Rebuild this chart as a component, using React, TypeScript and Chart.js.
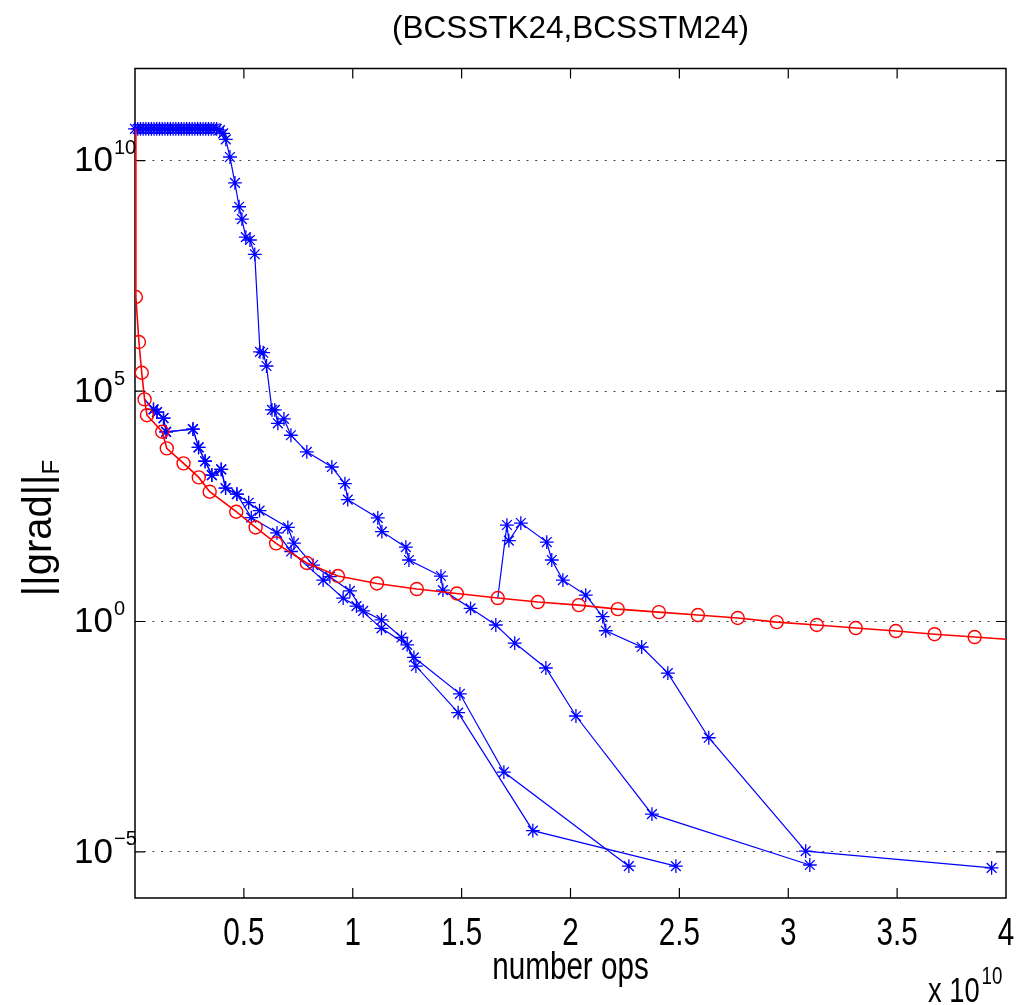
import React, { useEffect, useRef } from 'react';
import { Chart, registerables } from 'chart.js';

Chart.register(...registerables);

const SANS = '"Liberation Sans", Arial, Helvetica, sans-serif';

// ---- texts ----
const chartTitle = '(BCSSTK24,BCSSTM24)';
const xAxisLabel = 'number ops';
const yAxisLabelMain = '||grad||';
const yAxisLabelSub = 'F';
const xMultiplierBase = 'x 10';
const xMultiplierExp = '10';

// ---- ticks ----
const xTickValues = [0, 0.5, 1, 1.5, 2, 2.5, 3, 3.5, 4];
const xTickLabels = ['', '0.5', '1', '1.5', '2', '2.5', '3', '3.5', '4'];
const yTickExponents = [-5, 0, 5, 10];

// ---- data (x in units of 1e10 ops) ----
const redX = [0, 0.004, 0.018, 0.031, 0.044, 0.055, 0.125, 0.146, 0.223, 0.293, 0.343, 0.465, 0.554, 0.648, 0.789, 0.932, 1.111, 1.294, 1.478, 1.666, 1.85, 2.038, 2.217, 2.406, 2.585, 2.768, 2.947, 3.131, 3.31, 3.494, 3.672, 3.856, 4.035];
const redY = [4.9e10, 1.1e7, 1.16e6, 2.5e5, 6.6e4, 3.0e4, 1.31e4, 5.7e3, 2.7e3, 1.34e3, 655, 241, 110, 49.7, 18.6, 9.7, 6.7, 5.06, 4.05, 3.23, 2.64, 2.27, 1.86, 1.6, 1.38, 1.19, 0.97, 0.84, 0.72, 0.62, 0.53, 0.46, 0.4];

const upperX = [0, 0.0125, 0.025, 0.0375, 0.05, 0.0625, 0.075, 0.0875, 0.1, 0.1125, 0.125, 0.1375, 0.15, 0.1625, 0.175, 0.1875, 0.2, 0.2125, 0.225, 0.2375, 0.25, 0.2625, 0.275, 0.2875, 0.3, 0.3125, 0.325, 0.3375, 0.35, 0.3625, 0.375, 0.39, 0.405, 0.417, 0.436, 0.459, 0.478, 0.491, 0.509, 0.528, 0.55, 0.574, 0.589, 0.604, 0.629, 0.642, 0.656, 0.684, 0.716, 0.789, 0.904, 0.964, 0.977, 1.115, 1.134, 1.244, 1.258, 1.405, 1.414, 1.541, 1.657, 1.744, 1.887, 2.025, 2.374, 3.099];
const upperY = [4.9e10, 4.9e10, 4.9e10, 4.9e10, 4.9e10, 4.9e10, 4.9e10, 4.9e10, 4.9e10, 4.9e10, 4.9e10, 4.9e10, 4.9e10, 4.9e10, 4.9e10, 4.9e10, 4.9e10, 4.9e10, 4.9e10, 4.9e10, 4.9e10, 4.9e10, 4.9e10, 4.9e10, 4.9e10, 4.9e10, 4.9e10, 4.9e10, 4.9e10, 4.9e10, 4.9e10, 4.6e10, 3.9e10, 2.9e10, 1.2e10, 3.3e9, 1.0e9, 5.4e8, 2.2e8, 1.9e8, 9.3e7, 7.1e5, 6.8e5, 3.5e5, 3.9e4, 3.9e4, 2.0e4, 2.5e4, 1.1e4, 4.8e3, 2.25e3, 980, 440, 177, 89, 41, 21.6, 9.7, 4.8, 1.93, 0.84, 0.34, 0.098, 8.9e-3, 6.6e-5, 5.2e-6];

const spikeX = [1.666, 1.708, 1.717, 1.772, 1.891, 1.914, 1.965, 2.07, 2.148, 2.162, 2.327, 2.447, 2.635, 3.08, 3.934];
const spikeY = [3.23, 124, 56.8, 137, 53, 21.6, 7.9, 3.75, 1.27, 0.63, 0.28, 0.076, 3.0e-3, 1.04e-5, 4.5e-6];

const lowerAX = [0.044, 0.085, 0.101, 0.131, 0.143, 0.266, 0.292, 0.322, 0.353, 0.396, 0.416, 0.468, 0.522, 0.572, 0.702, 0.73, 0.818, 0.895, 0.987, 1.048, 1.132, 1.224, 1.281, 1.492, 1.694, 2.268];
const lowerAY = [6.6e4, 4.0e4, 3.5e4, 2.6e4, 1.3e4, 1.5e4, 6.0e3, 3.0e3, 1.5e3, 2.0e3, 780, 580, 378, 254, 110, 50, 16.8, 9.4, 4.6, 1.7, 1.08, 0.45, 0.167, 0.027, 5.4e-4, 4.9e-6];

const lowerBX = [0.044, 0.085, 0.101, 0.131, 0.143, 0.266, 0.292, 0.322, 0.353, 0.396, 0.416, 0.468, 0.534, 0.652, 0.717, 0.864, 0.956, 1.017, 1.132, 1.25, 1.29, 1.484, 1.827, 2.484];
const lowerBY = [6.6e4, 4.0e4, 3.5e4, 2.6e4, 1.3e4, 1.5e4, 6.0e3, 3.0e3, 1.5e3, 2.0e3, 780, 580, 179, 84, 33, 7.9, 3.2, 2.16, 0.71, 0.31, 0.108, 0.0105, 2.9e-5, 4.9e-6];

const toPoints = (xs: number[], ys: number[]) => xs.map((x, i) => ({ x, y: ys[i] }));

const BLUE = '#0000ff';
const RED = '#ff0000';
const X_TEXT_SQUEEZE = 0.78;

function drawSqueezed(ctx: CanvasRenderingContext2D, text: string, x: number, y: number, size: number, align: CanvasTextAlign, baseline: CanvasTextBaseline) {
  ctx.save();
  ctx.translate(x, y);
  ctx.scale(X_TEXT_SQUEEZE, 1);
  ctx.font = `${size}px ${SANS}`;
  ctx.textAlign = align;
  ctx.textBaseline = baseline;
  ctx.fillText(text, 0, 0);
  ctx.restore();
}

const matlabAxesPlugin = {
  id: 'matlabAxes',
  beforeDatasetsDraw(chart: any) {
    const { ctx, chartArea, scales } = chart;
    const { left, right, top, bottom } = chartArea;
    ctx.save();
    ctx.strokeStyle = '#000';
    ctx.lineWidth = 1.5;
    ctx.strokeRect(left, top, right - left, bottom - top);
    ctx.lineWidth = 1.2;
    const tl = 10;
    scales.x.ticks.forEach((t: any) => {
      const px = scales.x.getPixelForValue(t.value);
      if (px <= left + 1 || px >= right - 1) return;
      ctx.beginPath();
      ctx.moveTo(px, bottom);
      ctx.lineTo(px, bottom - tl);
      ctx.moveTo(px, top);
      ctx.lineTo(px, top + tl);
      ctx.stroke();
    });
    scales.y.ticks.forEach((t: any) => {
      const py = scales.y.getPixelForValue(t.value);
      ctx.beginPath();
      ctx.moveTo(left, py);
      ctx.lineTo(left + tl, py);
      ctx.moveTo(right, py);
      ctx.lineTo(right - tl, py);
      ctx.stroke();
    });
    ctx.restore();
  },
  afterDraw(chart: any) {
    const { ctx, chartArea, scales } = chart;
    const { bottom, left, right } = chartArea;
    ctx.save();
    ctx.fillStyle = '#000';
    // y tick labels: base 10 + exponent
    yTickExponents.forEach((e) => {
      const py = scales.y.getPixelForValue(Math.pow(10, e));
      ctx.font = `35px ${SANS}`;
      ctx.textAlign = 'right';
      ctx.textBaseline = 'middle';
      ctx.fillText('10', 113, py + 1);
      ctx.font = `20px ${SANS}`;
      ctx.textAlign = 'left';
      const expText = e < 0 ? '\u2212' + String(-e) : String(e);
      ctx.fillText(expText, 114, py - 12);
    });
    // x tick labels
    xTickValues.forEach((v, i) => {
      const px = scales.x.getPixelForValue(v);
      drawSqueezed(ctx, xTickLabels[i], px, bottom + 37, 38, 'center', 'middle');
    });
    // x axis label
    drawSqueezed(ctx, xAxisLabel, (left + right) / 2, bottom + 71, 38, 'center', 'middle');
    // x multiplier
    ctx.font = `35px ${SANS}`;
    const wBase = ctx.measureText(xMultiplierBase).width * X_TEXT_SQUEEZE;
    const bx = 928;
    drawSqueezed(ctx, xMultiplierBase, bx, 1002, 35, 'left', 'alphabetic');
    drawSqueezed(ctx, xMultiplierExp, bx + wBase + 2, 984, 24, 'left', 'alphabetic');
    // y axis label with subscript
    ctx.save();
    ctx.translate(51, 528);
    ctx.rotate(-Math.PI / 2);
    ctx.font = `40px ${SANS}`;
    const wMain = ctx.measureText(yAxisLabelMain).width;
    ctx.font = `24px ${SANS}`;
    const wSub = ctx.measureText(yAxisLabelSub).width;
    const total = wMain + wSub;
    ctx.textAlign = 'left';
    ctx.textBaseline = 'alphabetic';
    ctx.font = `40px ${SANS}`;
    ctx.fillText(yAxisLabelMain, -total / 2, 0);
    ctx.font = `24px ${SANS}`;
    ctx.fillText(yAxisLabelSub, -total / 2 + wMain, 8);
    ctx.restore();
    ctx.restore();
  },
};

export default function App() {
  const canvasRef = useRef<HTMLCanvasElement | null>(null);

  useEffect(() => {
    document.body.style.margin = '0';
    const canvas = canvasRef.current;
    if (!canvas) return;
    const STAR = 6.9;
    const starRadius = (c: any) => (c.dataIndex === 0 ? 0 : STAR);
    const blueBase = {
      borderColor: BLUE,
      backgroundColor: BLUE,
      borderWidth: 1.2,
      pointStyle: 'star',
      pointBorderColor: BLUE,
      pointBorderWidth: 1.3,
      pointRadius: STAR,
      pointHoverRadius: STAR,
      showLine: true,
      tension: 0,
      clip: false,
    };
    const chart = new Chart(canvas, {
      type: 'line',
      data: {
        datasets: [
          {
            label: 'red',
            data: toPoints(redX, redY),
            borderColor: RED,
            borderWidth: 1.6,
            pointStyle: 'circle',
            pointRadius: (c: any) => (c.dataIndex === 0 ? 0 : 6.5),
            pointBorderColor: RED,
            pointBorderWidth: 1.4,
            pointBackgroundColor: 'rgba(0,0,0,0)',
            backgroundColor: 'rgba(0,0,0,0)',
            tension: 0,
          },
          { label: 'upper', data: toPoints(upperX, upperY), ...blueBase },
          { label: 'spike', data: toPoints(spikeX, spikeY), ...blueBase, pointRadius: starRadius },
          { label: 'lowerA', data: toPoints(lowerAX, lowerAY), ...blueBase, pointRadius: starRadius },
          { label: 'lowerB', data: toPoints(lowerBX, lowerBY), ...blueBase, pointRadius: starRadius },
        ] as any,
      },
      options: {
        responsive: false,
        animation: false,
        devicePixelRatio: 1,
        layout: { padding: { left: 0, right: 16, top: 0, bottom: 0 } },
        plugins: {
          legend: { display: false },
          tooltip: { enabled: false },
          title: {
            display: true,
            fullSize: false,
            text: chartTitle,
            color: '#000',
            font: { family: SANS, size: 31.5, weight: 'normal', lineHeight: 1.2 },
            padding: { top: 10.1, bottom: 20.6 },
          },
        },
        scales: {
          x: {
            type: 'linear',
            min: 0,
            max: 4,
            afterBuildTicks: (scale: any) => {
              scale.ticks = xTickValues.map((v) => ({ value: v }));
            },
            afterFit: (scale: any) => {
              scale.height = 107;
            },
            ticks: { display: false },
            grid: { display: false },
            border: { display: false },
          },
          y: {
            type: 'logarithmic',
            min: 1e-6,
            max: 1e12,
            afterBuildTicks: (scale: any) => {
              scale.ticks = yTickExponents.map((e) => ({ value: Math.pow(10, e) }));
            },
            afterFit: (scale: any) => {
              scale.width = 135;
            },
            ticks: { display: false },
            grid: { display: true, color: '#444', lineWidth: 1, drawTicks: false },
            border: { display: false, dash: [2, 6.7] },
          },
        },
      } as any,
      plugins: [matlabAxesPlugin],
    });
    return () => chart.destroy();
  }, []);

  return (
    <div style={{ width: 1022, height: 1005, background: '#fff' }}>
      <canvas ref={canvasRef} width={1022} height={1005} style={{ display: 'block' }} />
    </div>
  );
}
